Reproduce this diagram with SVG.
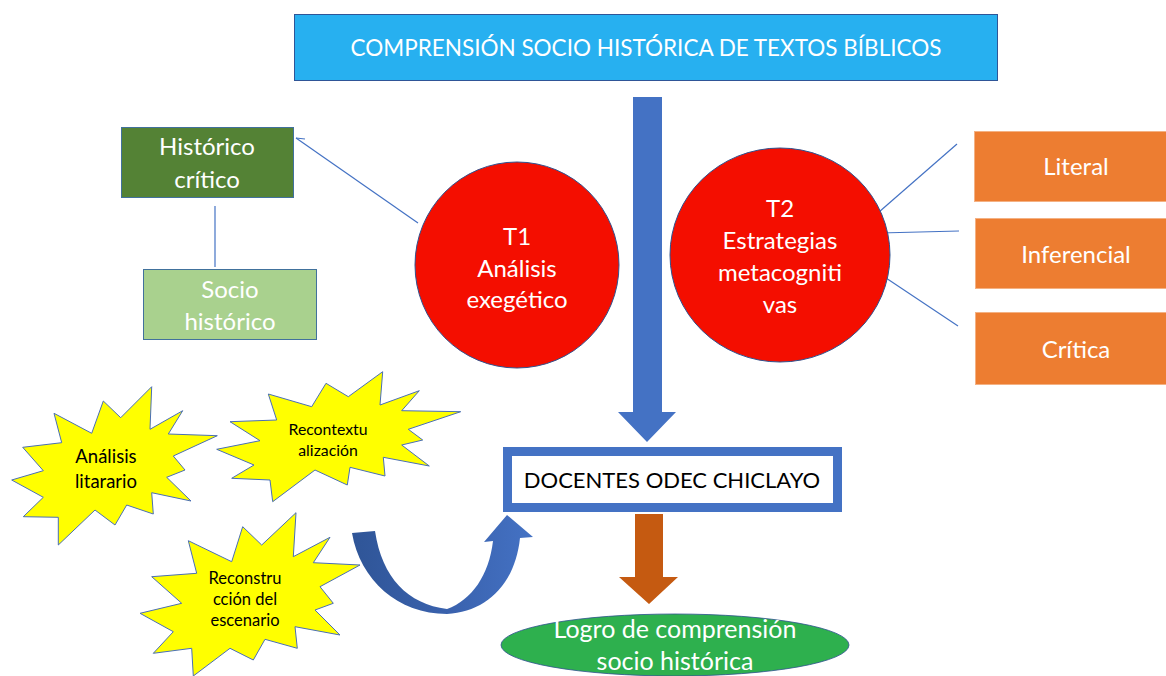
<svg xmlns="http://www.w3.org/2000/svg" width="1166" height="676" viewBox="0 0 1166 676">
<defs>
<style>
text{font-family:Lato,"Open Sans","Liberation Sans",sans-serif;text-anchor:middle;dominant-baseline:central}
.w{fill:#ffffff}
.k{fill:#000000}
.ln{stroke:#4472C4;stroke-width:1.2;fill:none}
.star{fill:#FFFF00;stroke:#4A6FB5;stroke-width:1}
.org{fill:#ED7D31;stroke:#F4B183;stroke-width:1}
.circ{fill:#F40E00;stroke:#2F528F;stroke-width:1}
.big{font-size:24px}
</style>
<linearGradient id="cg" x1="0" y1="0" x2="1" y2="0">
<stop offset="0" stop-color="#2F5597"/>
<stop offset="0.55" stop-color="#3A62AE"/>
<stop offset="1" stop-color="#4472C4"/>
</linearGradient>
</defs>
<rect width="1166" height="676" fill="#ffffff"/>

<g id="connectors">
<line class="ln" x1="296" y1="138" x2="418" y2="223"/>
<line class="ln" x1="296" y1="138" x2="305" y2="139"/>
<line class="ln" x1="215" y1="206" x2="215" y2="267"/>
<line class="ln" x1="879" y1="212" x2="957" y2="144"/>
<line class="ln" x1="880" y1="233" x2="959" y2="231"/>
<line class="ln" x1="865" y1="264" x2="958" y2="326"/>
<path id="arrow-down-blue" d="M633,97 H662 V412 H676 L647,442 L618,412 H633 Z" fill="#4472C4"/>
<path id="arrow-down-brown" d="M635,514 H663 V577 H678 L649,604 L619,577 H635 Z" fill="#C55A11"/>
<path id="arrow-curved" d="M352,533 L375,531 C382,578 408,604 447,609 C472,600 489,575 493,541 L484,542 L507,515 L533,537 L520,538 C515,585 486,612 447,614 C398,614 360,580 352,533 Z" fill="url(#cg)"/>
</g>

<g id="title">
<rect x="294.5" y="14.5" width="703" height="66" fill="#27B0F0" stroke="#2F5597" stroke-width="1"/>
<text class="w" x="646" y="47" font-size="22.5">COMPRENSIÓN SOCIO HISTÓRICA DE TEXTOS BÍBLICOS</text>
</g>

<g id="historico-critico">
<rect x="121.5" y="127.5" width="172" height="70" fill="#548235" stroke="#41719C" stroke-width="1"/>
<text class="w big" x="207" y="145">Histórico</text>
<text class="w big" x="207" y="178">crítico</text>
</g>

<g id="socio-historico">
<rect x="143.5" y="269.5" width="173" height="70" fill="#A9D18E" stroke="#41719C" stroke-width="1"/>
<text class="w big" x="230" y="288">Socio</text>
<text class="w big" x="230" y="320">histórico</text>
</g>

<g id="t1">
<ellipse class="circ" cx="517" cy="265" rx="102" ry="103"/>
<text class="w big" x="517" y="235">T1</text>
<text class="w big" x="517" y="267">Análisis</text>
<text class="w big" x="517" y="298">exegético</text>
</g>

<g id="t2">
<ellipse class="circ" cx="780" cy="255" rx="110" ry="107"/>
<text class="w big" x="780" y="207">T2</text>
<text class="w big" x="780" y="239">Estrategias</text>
<text class="w big" x="780" y="271">metacogniti</text>
<text class="w big" x="780" y="303">vas</text>
</g>

<g id="literal">
<rect class="org" x="974.5" y="131.5" width="200" height="70"/>
<text class="w big" x="1076" y="165">Literal</text>
</g>
<g id="inferencial">
<rect class="org" x="975.5" y="218.5" width="200" height="70"/>
<text class="w big" x="1076" y="253">Inferencial</text>
</g>
<g id="critica">
<rect class="org" x="975.5" y="312.5" width="200" height="72"/>
<text class="w big" x="1076" y="348">Crítica</text>
</g>

<g id="docentes">
<rect x="507.5" y="451.5" width="330" height="56" fill="#ffffff" stroke="#4472C4" stroke-width="9"/>
<text class="k" x="672" y="479" font-size="22">DOCENTES ODEC CHICLAYO</text>
</g>

<g id="logro">
<ellipse cx="675" cy="645" rx="174" ry="31" fill="#2EB04E" stroke="#2F528F" stroke-width="0.8"/>
<text class="w" x="675" y="628" font-size="25">Logro de comprensión</text>
<text class="w" x="675" y="660" font-size="25">socio histórica</text>
</g>

<g id="analisis-literario">
<polygon class="star" points="151.7,386.7 150,429.3 182.7,410.7 168.3,434 217.3,435.7 173.3,456 185,470 166.7,477.3 191,501 151.7,492.7 153.3,514 126.7,505 115,525 95,510 58.3,545 58.3,517.3 23.3,516.7 43.3,497.3 11.7,480 43.3,470.7 22.7,447.3 61.7,442.7 54,413.3 91.7,433.3 103.3,401 120.7,417.7"/>
<text class="k" x="106" y="456" font-size="18.5">Análisis</text>
<text class="k" x="106" y="481" font-size="18.5">litarario</text>
</g>

<g id="recontextualizacion">
<polygon class="star" points="382.7,371.7 380,405 419.3,390.7 401.7,410.7 460.7,411.7 408.3,429.3 422.7,440 401.7,445 429.3,466 383.3,457.3 385,476 350,467.3 347.3,485 315,470 272.7,501.7 270,480 231.7,478.3 254,465 216.7,449.3 260,440.7 230,421.7 276.7,420 268.3,394 311.7,406.7 326,383.3 348.3,396.7"/>
<text class="k" x="328" y="428" font-size="15.8">Recontextu</text>
<text class="k" x="328" y="449" font-size="15.8">alización</text>
</g>

<g id="reconstruccion">
<polygon class="star" points="296,512.7 293.3,556.7 330,537.3 313.3,562.7 360,565 320,586.7 333.3,603.3 315,610 340,635 295,626.7 297.3,648.3 265,639.3 253.3,660 230,648.3 193.3,676 191.7,648.3 153.3,653.3 173.3,631.7 140,613.3 181.7,603.3 151.7,576.7 196.7,573.3 188.3,540.7 231.7,561.7 242.7,526.7 261.7,545"/>
<text class="k" x="245" y="578" font-size="16.5">Reconstru</text>
<text class="k" x="245" y="599" font-size="16.5">cción del</text>
<text class="k" x="245" y="620" font-size="16.5">escenario</text>
</g>
</svg>
